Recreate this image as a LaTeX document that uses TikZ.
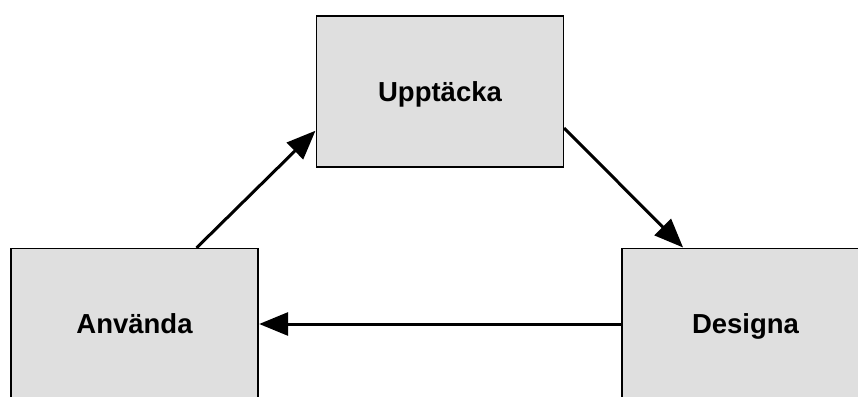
\documentclass[tikz,border=0pt]{standalone}
\usepackage{fontspec}
\setmainfont{Liberation Sans}
\usetikzlibrary{arrows.meta,calc}
\definecolor{boxgray}{HTML}{DFDFDF}
\tikzset{
  stage/.style={draw=black, line width=1.3pt, fill=boxgray, minimum width=247pt,
    minimum height=151pt, inner sep=0pt, text height=19.7pt, text depth=0pt,
    font=\fontsize{27.5}{32}\selectfont\bfseries},
  flow/.style={line width=3pt, -{Triangle[length=29pt,width=23pt]}, shorten >=0.5pt}
}
\begin{document}
\begin{tikzpicture}[x=1pt,y=1pt]
  \useasboundingbox (0,0) rectangle (858,396);
  \clip (0,0) rectangle (858,396);
  \node[stage] (upp) at (440,304.5) {Upptäcka};
  \node[stage] (anv) at (134.5,72) {Använda};
  \node[stage] (des) at (745.5,72) {Designa};
  \draw[flow] ($(anv.north west)!0.75!(anv.north east)$) -- ($(upp.north west)!0.755!(upp.south west)$);
  \draw[flow] ($(upp.north east)!0.74!(upp.south east)$) -- ($(des.north west)!0.25!(des.north east)$);
  \draw[flow] (des.west) -- (anv.east);
\end{tikzpicture}
\end{document}
